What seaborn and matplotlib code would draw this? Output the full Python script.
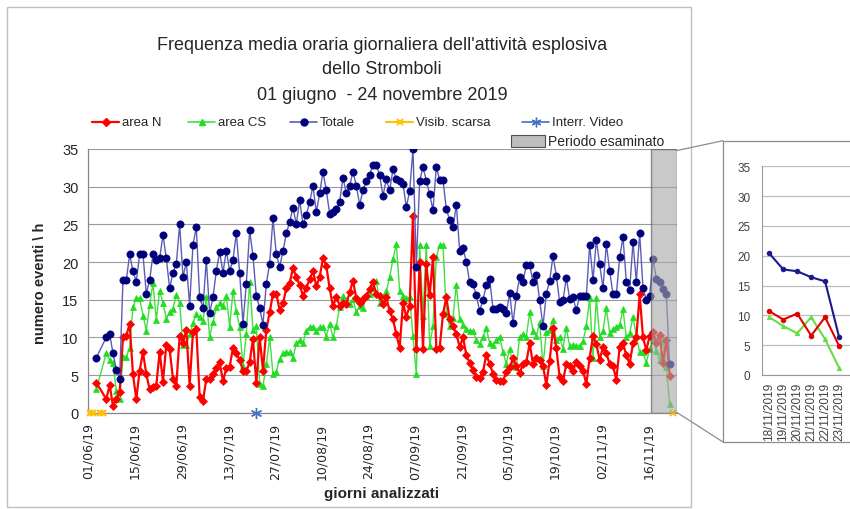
import numpy as np
import pandas as pd
import matplotlib
matplotlib.use("Agg")
import matplotlib.pyplot as plt
import seaborn as sns
from matplotlib.lines import Line2D
from matplotlib.patches import Rectangle

nan = np.nan

# day index: 0 = 01/06/2019 ... 176 = 24/11/2019
giorni = list(range(177))

totale = [
    nan, nan, nan, 7.3, nan, nan, 10.0, 10.5, 7.9, 5.7,
    4.5, 17.6, 17.6, 21.0, 18.8, 17.4, 21.0, 21.0, 15.8, 17.6,
    21.0, 20.3, 20.5, 23.6, 20.5, 16.5, 18.6, 19.7, 25.0, 18.0,
    20.0, 14.2, 22.3, 24.6, 15.3, 13.9, 20.3, 13.2, 15.3, 18.8,
    21.3, 18.6, 21.5, 18.8, 20.3, 23.8, 18.6, 11.8, 17.1, 24.2,
    20.8, 15.5, 13.9, 11.7, 17.1, 19.8, 25.8, 21.0, 19.4, 21.4,
    23.8, 25.3, 27.2, 25.0, 28.2, 25.0, 26.2, 28.0, 30.1, 26.6,
    29.1, 32.0, 29.5, 26.4, 26.6, 27.0, 28.0, 31.2, 29.1, 30.1,
    32.0, 30.1, 27.6, 29.5, 30.7, 31.6, 32.9, 32.9, 31.5, 28.8,
    31.0, 29.5, 32.3, 31.0, 30.7, 30.4, 27.3, 29.4, 35.0, 19.4,
    30.8, 32.6, 30.8, 29.0, 26.9, 32.6, 30.9, 30.9, 27.0, 25.6,
    24.6, 27.6, 21.5, 21.9, 20.0, 17.3, 17.1, 15.6, 13.5, 15.0,
    16.9, 17.7, 13.8, 13.7, 14.0, 13.7, 13.2, 15.9, 11.9, 15.5,
    18.0, 17.4, 19.6, 19.6, 17.4, 18.3, 14.9, 11.5, 15.8, 17.5,
    20.8, 18.2, 14.7, 14.9, 17.9, 15.1, 15.3, 13.6, 15.5, 15.5,
    15.5, 22.3, 17.6, 22.9, 19.7, 16.5, 22.4, 18.8, 15.7, 15.7,
    20.6, 23.3, 17.4, 16.3, 22.6, 17.4, 23.8, 16.5, 15.0, 15.5,
    20.4, 17.7, 17.4, 16.4, 15.7, 6.4, nan]

area_n = [
    nan, nan, nan, 4.0, nan, nan, 1.8, 3.7, 0.9, 1.8,
    2.7, 10.0, 10.2, 11.8, 5.1, 1.8, 5.6, 8.0, 5.1, 3.1,
    3.4, 3.6, 8.1, 4.1, 9.0, 8.4, 4.5, 3.6, 10.2, 9.3,
    11.0, 3.6, 10.7, 11.1, 2.1, 1.6, 4.5, 4.5, 5.1, 5.9,
    6.7, 4.2, 5.9, 6.1, 8.6, 7.9, 7.0, 5.6, 5.5, 6.7,
    9.8, 3.9, 10.1, 5.6, 11.0, 13.3, 15.8, 15.8, 13.6, 14.5,
    16.5, 17.2, 19.2, 18.0, 17.0, 15.5, 16.6, 17.7, 18.8, 16.8,
    18.0, 20.5, 19.5, 16.5, 14.1, 15.4, 14.2, 14.6, 14.4, 16.0,
    17.5, 15.2, 14.6, 15.1, 15.5, 16.4, 17.3, 15.8, 15.5, 14.4,
    15.3, 13.5, 12.4, 10.4, 8.6, 14.6, 12.7, 14.2, 26.1, 8.5,
    20.0, 8.5, 19.7, 15.6, 20.6, 8.5, 8.6, 13.1, 15.3, 12.4,
    11.5, 10.5, 8.7, 10.0, 7.7, 6.6, 5.7, 4.8, 4.6, 5.4,
    7.7, 6.5, 5.2, 4.4, 4.2, 4.2, 5.4, 6.0, 7.2, 6.2,
    5.3, 6.4, 6.7, 9.2, 6.5, 7.3, 7.0, 6.2, 3.7, 6.9,
    11.2, 8.6, 4.7, 4.2, 6.5, 6.2, 5.6, 6.7, 6.2, 5.6,
    3.8, 7.3, 10.2, 9.1, 7.0, 8.7, 7.9, 6.5, 6.2, 4.4,
    8.7, 9.2, 7.6, 6.5, 9.2, 10.0, 15.7, 10.0, 8.3, 10.2,
    10.7, 9.3, 10.3, 6.6, 9.7, 4.9, nan]

area_cs = [
    nan, nan, nan, 3.1, nan, nan, 7.9, 7.0, 6.6, 2.9,
    1.8, 7.4, 7.4, 8.6, 14.0, 15.2, 15.2, 12.9, 10.9, 14.3,
    17.2, 12.3, 16.2, 14.6, 12.5, 13.4, 13.8, 15.6, 14.5, 9.0,
    9.0, 10.4, 11.9, 13.1, 12.7, 12.2, 15.3, 10.1, 12.0, 14.0,
    14.5, 14.2, 15.5, 11.4, 16.2, 13.5, 11.4, 6.2, 10.5, 17.4,
    11.0, 11.5, 3.8, 3.5, 6.4, 10.0, 5.1, 5.4, 7.1, 7.9,
    8.0, 8.0, 7.3, 9.2, 9.6, 9.2, 10.9, 11.4, 11.4, 10.9,
    11.4, 11.4, 10.1, 11.8, 10.0, 11.5, 14.0, 15.5, 15.0, 14.4,
    15.1, 13.3, 14.2, 13.9, 15.5, 15.8, 16.6, 17.5, 14.6, 15.2,
    16.1, 18.0, 20.4, 22.4, 16.2, 15.5, 15.2, 15.3, 10.2, 5.1,
    22.3, 12.9, 22.3, 8.9, 11.5, 20.6, 22.3, 22.3, 13.1, 11.5,
    12.6, 17.0, 12.5, 11.6, 11.1, 10.9, 10.8, 9.6, 9.1, 10.0,
    11.3, 9.2, 9.0, 9.6, 10.1, 8.0, 6.5, 8.5, 6.2, 6.1,
    10.1, 10.4, 10.1, 13.3, 10.9, 10.2, 12.0, 6.2, 10.7, 11.0,
    12.3, 9.6, 10.0, 8.5, 11.3, 8.8, 9.0, 8.9, 8.9, 9.5,
    11.5, 15.2, 7.3, 15.2, 10.1, 10.9, 13.9, 10.6, 11.1, 11.4,
    11.7, 13.7, 10.0, 10.6, 12.7, 10.2, 8.0, 8.0, 6.6, 8.5,
    9.7, 8.2, 7.0, 9.7, 6.0, 1.2, nan]

visib_scarsa_giorni = [1, 2, 4, 5, 176]
interr_video_giorni = [51]

tick_giorni = [0, 14, 28, 42, 56, 70, 84, 98, 112, 126, 140, 154, 168]
tick_labels = ['01/06/19', '15/06/19', '29/06/19', '13/07/19', '27/07/19',
               '10/08/19', '24/08/19', '07/09/19', '21/09/19', '05/10/19',
               '19/10/19', '02/11/19', '16/11/19']

periodo = (170, 176)
inset_giorni = [170, 171, 172, 173, 174, 175]
inset_labels = ['18/11/2019', '19/11/2019', '20/11/2019', '21/11/2019',
                '22/11/2019', '23/11/2019']

titolo = ["Frequenza media oraria giornaliera dell'attività esplosiva",
          "dello Stromboli",
          "01 giugno  - 24 novembre 2019"]

# ------------------------------------------------------------------
sns.set_style("white")
plt.rcParams['font.family'] = ['Liberation Sans', 'DejaVu Sans']

W, H = 850, 510
fig = plt.figure(figsize=(8.5, 5.1), dpi=100)


def box(x0, y0, x1, y1):
    return [x0 / W, 1 - y1 / H, (x1 - x0) / W, (y1 - y0) / H]


def fx(px):
    return px / W


def fy(py):
    return 1 - py / H


df = pd.DataFrame({'giorno': giorni, 'area N': area_n,
                   'area CS': area_cs, 'Totale': totale})

RED = '#FF0000'
GREEN_L = '#3FE03F'
GREEN_M = '#22DD22'
NAVY = '#00007A'
BLUE_L = '#5C5CB8'
ORANGE = '#FFC000'
IVBLUE = '#4472C4'
GRID = '#9A9A9A'

# ---------------- main axes ----------------
ax = fig.add_axes(box(88.3, 150, 677, 413.7))

d = df[['giorno', 'area CS']].dropna()
sns.lineplot(data=d, x='giorno', y='area CS', ax=ax, color=GREEN_L, lw=1.0,
             marker='^', markersize=5, markerfacecolor=GREEN_M,
             markeredgecolor=GREEN_M, markeredgewidth=0.5, zorder=3,
             legend=False)
d = df[['giorno', 'area N']].dropna()
sns.lineplot(data=d, x='giorno', y='area N', ax=ax, color=RED, lw=1.6,
             marker='D', markersize=3.6, markerfacecolor=RED,
             markeredgecolor=RED, markeredgewidth=0.5, zorder=4,
             legend=False)
d = df[['giorno', 'Totale']].dropna()
sns.lineplot(data=d, x='giorno', y='Totale', ax=ax, color=BLUE_L, lw=1.0,
             marker='o', markersize=5.2, markerfacecolor=NAVY,
             markeredgecolor=NAVY, markeredgewidth=0.5, zorder=5,
             legend=False)

ax.plot(visib_scarsa_giorni, [0] * len(visib_scarsa_giorni), ls='none',
        marker='x', color=ORANGE, markersize=5, mew=1.5, clip_on=False,
        zorder=6)
ax.plot(interr_video_giorni, [0] * len(interr_video_giorni), ls='none',
        marker=(6, 2, 0), color=IVBLUE, markersize=8, mew=1.0, clip_on=False,
        zorder=6)

ax.axvspan(periodo[0] - 0.6, periodo[1] + 1.1, facecolor='#A8A8A8',
           alpha=0.62, edgecolor='#505050', lw=1.0, zorder=7)

ax.set_xlim(0.6, 177.2)
ax.set_ylim(0, 35)
ax.set_yticks(range(0, 36, 5))
ax.set_xticks([t + 0.6 for t in tick_giorni])
ax.set_xticklabels(tick_labels, rotation=90, fontsize=9,
                   family=['DejaVu Sans'])
ax.tick_params(axis='y', labelsize=10.5, length=4, color='#868686', pad=3)
ax.tick_params(axis='x', length=4, color='#868686', pad=3)
ax.yaxis.grid(True, color=GRID, lw=0.8)
ax.xaxis.grid(False)
ax.set_axisbelow(True)
for s in ['top', 'right']:
    ax.spines[s].set_visible(False)
for s in ['left', 'bottom']:
    ax.spines[s].set_color('#868686')
    ax.spines[s].set_linewidth(0.9)
ax.set_xlabel('')
ax.set_ylabel('')

# ---------------- titles / labels ----------------
for i, t in enumerate(titolo):
    fig.text(fx(382), fy([45, 70, 96][i]), t, ha='center', va='center',
             fontsize=13)
fig.text(fx(40), fy(283), 'numero eventi \\ h', rotation=90, ha='center',
         va='center', fontsize=10.5, fontweight='bold')
fig.text(fx(382), fy(494), 'giorni analizzati', ha='center', va='center',
         fontsize=11, fontweight='bold')

# ---------------- legend row ----------------
ly = fy(123)
leg = [
    (92, 'area N', dict(color=RED, lw=1.6, marker='D', ms=3.6, mfc=RED, mec=RED)),
    (188, 'area CS', dict(color=GREEN_L, lw=1.2, marker='^', ms=5, mfc=GREEN_M, mec=GREEN_M)),
    (290, 'Totale', dict(color=BLUE_L, lw=1.2, marker='o', ms=5, mfc=NAVY, mec=NAVY)),
    (386, 'Visib. scarsa', dict(color=ORANGE, lw=1.5, marker='x', ms=5, mew=1.5)),
    (522, 'Interr. Video', dict(color=IVBLUE, lw=1.2, marker=(6, 2, 0), ms=7, mew=1.0)),
]
for x0, lab, kw in leg:
    fig.add_artist(Line2D([fx(x0), fx(x0 + 27)], [ly, ly],
                          transform=fig.transFigure,
                          **{k: v for k, v in kw.items() if k in ('color', 'lw')}))
    mk = {k: v for k, v in kw.items() if k not in ('lw',)}
    fig.add_artist(Line2D([fx(x0 + 13.5)], [ly], transform=fig.transFigure,
                          ls='none', **mk))
    fig.text(fx(x0 + 30), ly, lab, ha='left', va='center', fontsize=9.5)

# Periodo esaminato key
fig.add_artist(Rectangle((fx(511), fy(148)), (545 - 511) / W, 12 / H,
                         transform=fig.transFigure, facecolor='#BEBEBE',
                         edgecolor='#505050', lw=0.8))
fig.text(fx(548), fy(142), 'Periodo esaminato', ha='left', va='center',
         fontsize=10)

# ---------------- chart frame ----------------
fig.add_artist(Rectangle((fx(7), fy(508)), (691 - 7) / W, (508 - 8) / H,
                         transform=fig.transFigure, facecolor='none',
                         edgecolor='#BFBFBF', lw=1.0))

# ---------------- inset ----------------
ix0, ix1 = 761.7, 900
day_px = 13.95
ax2 = fig.add_axes(box(ix0, 167.3, ix1, 376))
sub = df[(df['giorno'] >= periodo[0]) & (df['giorno'] <= periodo[1])]
d = sub[['giorno', 'area CS']].dropna()
sns.lineplot(data=d, x='giorno', y='area CS', ax=ax2, color='#66DD44', lw=1.5,
             marker='^', markersize=3, markerfacecolor='#66DD44',
             markeredgecolor='#66DD44', legend=False, clip_on=False)
d = sub[['giorno', 'area N']].dropna()
sns.lineplot(data=d, x='giorno', y='area N', ax=ax2, color='#E00000', lw=1.5,
             marker='o', markersize=3.2, markerfacecolor='#E00000',
             markeredgecolor='#E00000', legend=False, clip_on=False)
d = sub[['giorno', 'Totale']].dropna()
sns.lineplot(data=d, x='giorno', y='Totale', ax=ax2, color='#1A1A8C', lw=1.5,
             marker='o', markersize=3.2, markerfacecolor='#1A1A8C',
             markeredgecolor='#1A1A8C', legend=False, clip_on=False)
x_left = periodo[0] - (769.3 - ix0) / day_px
ax2.set_xlim(x_left, x_left + (ix1 - ix0) / day_px)
ax2.set_ylim(0, 35)
ax2.set_yticks(range(0, 36, 5))
ax2.set_xticks(inset_giorni)
ax2.set_xticklabels(inset_labels, rotation=90, fontsize=8.5, color='#404040')
ax2.set_xticks([g - 0.5 for g in inset_giorni] + [inset_giorni[-1] + 0.5,
                                                   inset_giorni[-1] + 1.5],
               minor=True)
ax2.tick_params(axis='x', which='major', length=0, pad=5)
ax2.tick_params(axis='x', which='minor', length=4, color='#9A9A9A')
ax2.tick_params(axis='y', labelsize=8.5, labelcolor='#404040', length=4,
                color='#9A9A9A', pad=4)
ax2.yaxis.grid(True, color='#BDBDBD', lw=0.9)
ax2.xaxis.grid(False)
ax2.set_axisbelow(True)
for s in ['top', 'right']:
    ax2.spines[s].set_visible(False)
for s in ['left', 'bottom']:
    ax2.spines[s].set_color('#9A9A9A')
ax2.set_xlabel('')
ax2.set_ylabel('')

# inset frame and connectors
frame_kw = dict(transform=fig.transFigure, color='#8C8C8C', lw=0.9)
fig.add_artist(Line2D([fx(723), fx(860)], [fy(141.7), fy(141.7)], **frame_kw))
fig.add_artist(Line2D([fx(723), fx(723)], [fy(141.7), fy(443)], **frame_kw))
fig.add_artist(Line2D([fx(723), fx(860)], [fy(443), fy(443)], **frame_kw))
fig.add_artist(Line2D([fx(677), fx(723)], [fy(151.5), fy(141.7)], **frame_kw))
fig.add_artist(Line2D([fx(677), fx(723)], [fy(413.5), fy(443)], **frame_kw))

fig.savefig('out.png', dpi=100)
